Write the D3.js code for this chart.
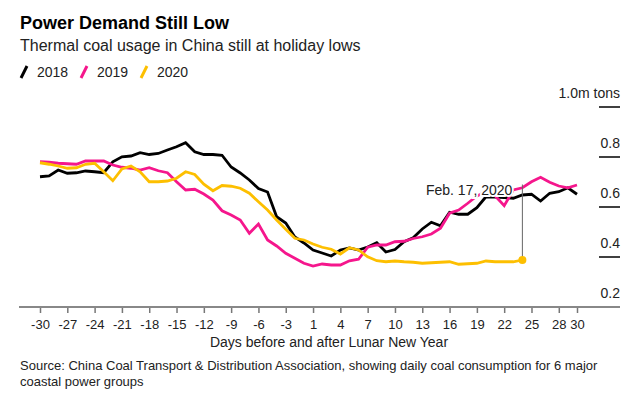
<!DOCTYPE html>
<html>
<head>
<meta charset="utf-8">
<script src="https://cdn.jsdelivr.net/npm/d3@7"></script>
<style>
  body { margin: 0; background: #fff; }
  svg { font-family: "Liberation Sans", Arial, sans-serif; }
  .axis text { font-size: 13px; fill: #222; }
</style>
</head>
<body>
<script>
//days before and after Lunar New Year (there is no day 0)
var days = [-30,-29,-28,-27,-26,-25,-24,-23,-22,-21,-20,-19,-18,-17,-16,-15,-14,-13,-12,-11,
            -10,-9,-8,-7,-6,-5,-4,-3,-2,-1,1,2,3,4,5,6,7,8,9,10,
            11,12,13,14,15,16,17,18,19,20,21,22,23,24,25,26,27,28,29,30];

var tickDays = [-30,-27,-24,-21,-18,-15,-12,-9,-6,-3,1,4,7,10,13,16,19,22,25,28,30];

var yTicks = [0.2, 0.4, 0.6, 0.8, 1.0];

//million tons per day
var coal2018 = [0.721,0.724,0.748,0.735,0.737,0.744,0.741,0.737,0.781,0.801,
                0.804,0.817,0.810,0.814,0.828,0.841,0.857,0.821,0.810,0.810,
                0.807,0.760,0.736,0.708,0.674,0.660,0.561,0.536,0.480,0.456,
                0.428,0.416,0.404,0.428,0.436,0.428,0.440,0.457,0.420,0.430,
                0.461,0.477,0.512,0.539,0.525,0.579,0.571,0.571,0.597,0.641,
                0.640,0.638,0.635,0.648,0.651,0.624,0.655,0.661,0.677,0.651];

var coal2019 = [0.781,0.779,0.775,0.773,0.771,0.784,0.784,0.784,0.768,0.759,
                0.755,0.748,0.757,0.745,0.737,0.701,0.668,0.671,0.652,0.628,
                0.585,0.568,0.548,0.495,0.532,0.468,0.444,0.415,0.395,0.375,
                0.364,0.372,0.368,0.368,0.385,0.391,0.439,0.448,0.448,0.461,
                0.463,0.474,0.481,0.492,0.515,0.575,0.588,0.615,0.644,0.660,
                0.645,0.605,0.668,0.677,0.701,0.719,0.699,0.684,0.677,0.688];

var coal2020 = [0.777,0.771,0.764,0.755,0.757,0.771,0.775,0.741,0.705,0.752,
                0.764,0.741,0.701,0.701,0.704,0.715,0.741,0.730,0.691,0.665,
                0.686,0.683,0.675,0.655,0.621,0.588,0.548,0.511,0.475,0.468,
                0.452,0.439,0.431,0.412,0.437,0.428,0.401,0.385,0.381,0.384,
                0.381,0.379,0.375,0.377,0.379,0.381,0.371,0.373,0.375,0.384,
                0.381,0.381,0.381,0.388];

var seriesNames = ["2018", "2019", "2020"];
var seriesColors = ["#000000", "#f5168c", "#fdbf00"];

//annotation: latest 2020 reading
var noteDay = 24,
    noteTop = 0.69,
    noteText = "Feb. 17, 2020";

window.onload = drawChart();

function drawChart(){

    var width = 643,
        height = 399;

    var svg = d3.select("body")
        .append("svg")
        .attr("width", width)
        .attr("height", height);

    //titles
    svg.append("text")
        .attr("x", 20)
        .attr("y", 29)
        .style("font-size", "18px")
        .style("font-weight", "bold")
        .attr("fill", "#000")
        .text("Power Demand Still Low");

    svg.append("text")
        .attr("x", 20)
        .attr("y", 51)
        .style("font-size", "16px")
        .attr("fill", "#222")
        .text("Thermal coal usage in China still at holiday lows");

    //legend
    var legend = svg.selectAll(".legend")
        .data(seriesNames)
        .enter()
        .append("g")
        .attr("class", "legend")
        .attr("transform", function(d, i){ return "translate(" + (21 + i * 60) + ",0)"; });

    legend.append("line")
        .attr("x1", 0).attr("y1", 78)
        .attr("x2", 6).attr("y2", 66)
        .attr("stroke", function(d, i){ return seriesColors[i]; })
        .attr("stroke-width", 3);

    legend.append("text")
        .attr("x", 16)
        .attr("y", 77)
        .style("font-size", "14px")
        .attr("fill", "#222")
        .text(function(d){ return d; });

    //scales
    var x = d3.scalePoint()
        .domain(days)
        .range([40, 577]);

    var y = d3.scaleLinear()
        .domain([0.2, 1.0])
        .range([307, 107]);

    //x axis
    var xAxis = svg.append("g")
        .attr("class", "axis")
        .attr("transform", "translate(0,307)")
        .call(d3.axisBottom(x).tickValues(tickDays).tickSize(6).tickPadding(7));

    xAxis.select(".domain").remove();
    xAxis.selectAll(".tick line").attr("stroke", "#777").attr("stroke-width", 1.5);

    svg.append("line")
        .attr("x1", 19).attr("x2", 620)
        .attr("y1", y(0.2)).attr("y2", y(0.2))
        .attr("stroke", "#888")
        .attr("stroke-width", 2);

    svg.append("text")
        .attr("x", 329)
        .attr("y", 347)
        .attr("text-anchor", "middle")
        .style("font-size", "14px")
        .attr("fill", "#222")
        .text("Days before and after Lunar New Year");

    //y axis labels on the right, each with a short rule underneath
    var yAxis = svg.selectAll(".ylab")
        .data(yTicks)
        .enter()
        .append("g")
        .attr("class", "ylab");

    yAxis.filter(function(d){ return d > 0.2; })
        .append("line")
        .attr("x1", 599).attr("x2", 620)
        .attr("y1", function(d){ return y(d); })
        .attr("y2", function(d){ return y(d); })
        .attr("stroke", "#000")
        .attr("stroke-width", 1.5);

    yAxis.append("text")
        .attr("x", 620)
        .attr("y", function(d){ return y(d) - 9; })
        .attr("text-anchor", "end")
        .style("font-size", "14px")
        .attr("fill", "#222")
        .text(function(d){ return d === 1 ? "1.0m tons" : d.toFixed(1); });

    //lines
    var allSeries = [coal2018, coal2019, coal2020];

    var line = d3.line()
        .x(function(d, i){ return x(days[i]); })
        .y(function(d){ return y(d); });

    svg.selectAll(".coal")
        .data(allSeries)
        .enter()
        .append("path")
        .attr("class", "coal")
        .attr("fill", "none")
        .attr("stroke", function(d, i){ return seriesColors[i]; })
        .attr("stroke-width", 2.8)
        .attr("stroke-linejoin", "miter")
        .attr("d", line);

    //annotation
    var noteValue = coal2020[days.indexOf(noteDay)];

    svg.append("line")
        .attr("x1", x(noteDay)).attr("x2", x(noteDay))
        .attr("y1", y(noteTop))
        .attr("y2", y(noteValue))
        .attr("stroke", "#666")
        .attr("stroke-width", 1);

    svg.append("text")
        .attr("x", x(noteDay) - 10)
        .attr("y", y(noteTop) + 10)
        .attr("text-anchor", "end")
        .style("font-size", "14px")
        .attr("fill", "#222")
        .attr("stroke", "#fff")
        .attr("stroke-width", 4)
        .attr("paint-order", "stroke")
        .text(noteText);

    svg.append("circle")
        .attr("cx", x(noteDay))
        .attr("cy", y(noteValue))
        .attr("r", 4)
        .attr("fill", seriesColors[2]);

    //source
    svg.append("text")
        .attr("x", 20)
        .attr("y", 370)
        .style("font-size", "13px")
        .attr("fill", "#222")
        .text("Source: China Coal Transport & Distribution Association, showing daily coal consumption for 6 major");

    svg.append("text")
        .attr("x", 20)
        .attr("y", 386)
        .style("font-size", "13px")
        .attr("fill", "#222")
        .text("coastal power groups");
};
</script>
</body>
</html>
